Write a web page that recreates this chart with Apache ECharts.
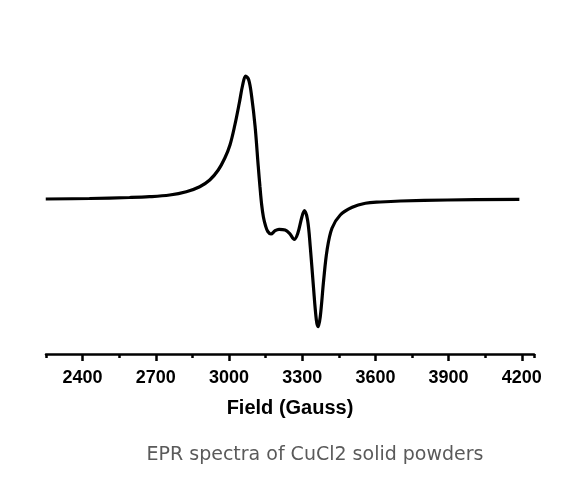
<!DOCTYPE html>
<html>
<head>
<meta charset="utf-8">
<script src="https://cdn.jsdelivr.net/npm/echarts@6/dist/echarts.min.js"></script>
<style>
html,body{margin:0;padding:0;background:#fff;}
#chart{width:585px;height:483px;}
</style>
</head>
<body>
<div id="chart"></div>
<script>
// Magnetic field (Gauss) and EPR signal (arbitrary units, baseline = 0)
const fieldGauss = [2249, 2428, 2592, 2674, 2757, 2825, 2880, 2921, 2956, 2983, 3004, 3024, 3042, 3056, 3068, 3081, 3093, 3107, 3120, 3127, 3134, 3141, 3150, 3159, 3172, 3189, 3205, 3230, 3248, 3268, 3282, 3299, 3309, 3322, 3333, 3346, 3358, 3365, 3374, 3388, 3402, 3422, 3456, 3505, 3559, 3620, 3703, 3895, 4190];
const signal = [0, 0.5, 1.5, 2.3, 4, 7.3, 12.3, 19, 29, 41, 54, 74, 95.7, 114, 123, 119, 102.3, 72.3, 32.3, 12, -6, -18, -27, -32.5, -35, -31.7, -30.3, -31, -34.3, -40.3, -34.3, -17.7, -11.7, -21, -47.7, -87.7, -121, -127.7, -117.7, -81, -51, -29.3, -16, -8.3, -4.3, -3, -2, -1, -0.3];
const majorTicks = [2400, 2700, 3000, 3300, 3600, 3900, 4200];
const minorTicks = [2250, 2550, 2850, 3150, 3450, 3750, 4050, 4250];
const xTitle = 'Field (Gauss)';
const caption = 'EPR spectra of CuCl2 solid powders';

const data = fieldGauss.map((f, i) => [f, signal[i]]);
const chart = echarts.init(document.getElementById('chart'), null, {renderer: 'canvas'});
chart.setOption({
  animation: false,
  backgroundColor: '#fff',
  title: {
    text: caption,
    left: 310, top: 441, textAlign: 'center',
    textStyle: {fontFamily: 'DejaVu Sans', fontSize: 19, fontWeight: 'normal', color: '#5a5a5a'}
  },
  grid: {left: 46, right: 51, top: 30, bottom: 129},
  xAxis: [{
    type: 'value', min: 2250, max: 4250,
    name: xTitle, nameLocation: 'middle', nameGap: 44,
    nameTextStyle: {fontFamily: 'Liberation Sans', fontWeight: 'bold', fontSize: 20, color: '#000'},
    axisLine: {show: true, onZero: false, lineStyle: {color: '#000', width: 2.5}},
    axisTick: {show: true, customValues: majorTicks, length: 7, lineStyle: {color: '#000', width: 2.5}},
    axisLabel: {customValues: majorTicks, margin: 15, formatter: v => String(v), fontFamily: 'Liberation Sans', fontWeight: 'bold', fontSize: 18, color: '#000'},
    splitLine: {show: false}
  }, {
    type: 'value', min: 2250, max: 4250, position: 'bottom',
    axisLine: {show: false, onZero: false},
    axisTick: {show: true, customValues: minorTicks, length: 4, lineStyle: {color: '#000', width: 2.5}},
    axisLabel: {show: false},
    splitLine: {show: false}
  }],
  yAxis: {
    type: 'value', min: -155, max: 169, show: false
  },
  series: [{
    type: 'line', data: data, xAxisIndex: 0,
    smooth: 0.35, showSymbol: false,
    lineStyle: {color: '#000', width: 3.2}
  }]
});
</script>
</body>
</html>
